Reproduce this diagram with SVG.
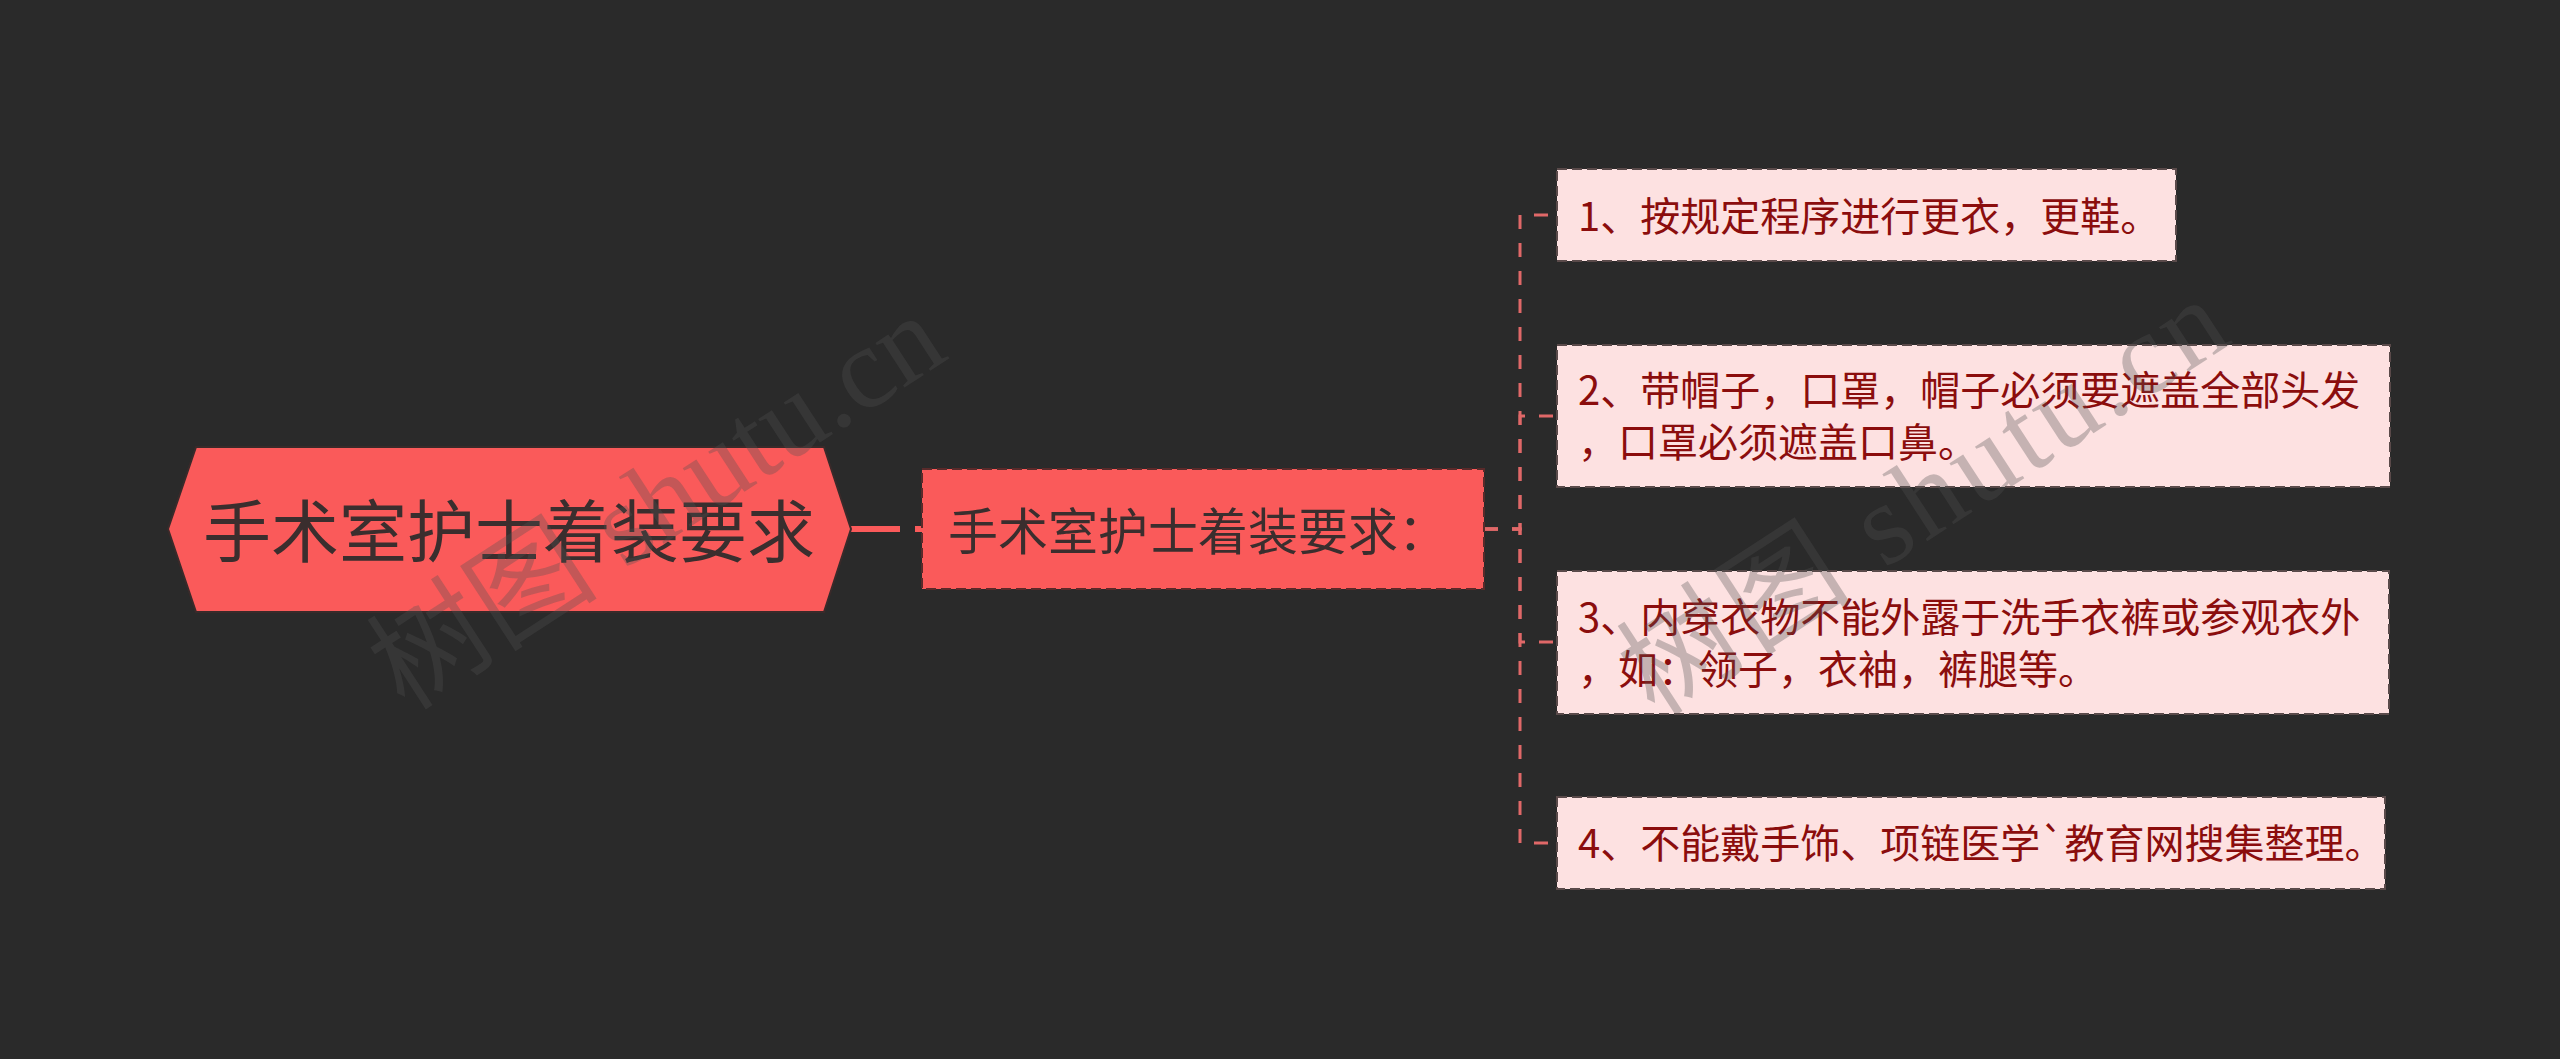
<svg xmlns="http://www.w3.org/2000/svg" width="2560" height="1059" viewBox="0 0 2560 1059">
<style>
  .bg { fill: #2a2a2a; }
  .root-shape { fill: #fa5a5a; stroke: #3a2a2a; stroke-width: 2; }
  .root-text { font-family: "Noto Sans CJK SC", "Noto Sans", sans-serif; font-size: 68px; fill: #3a2e2e; }
  .mid-shape { fill: #fa5a5a; stroke: #5a2a2a; stroke-width: 2; stroke-dasharray: 10 5; }
  .mid-text { font-family: "Noto Sans CJK SC", "Noto Sans", sans-serif; font-size: 50px; fill: #3a2e2e; }
  .leaf-shape { fill: #fde1e1; stroke: #5a4a4a; stroke-width: 2; stroke-dasharray: 10 5; }
  .leaf-text { font-family: "Noto Sans CJK SC", "Noto Sans", sans-serif; font-size: 40px; fill: #8b0d0d; }
  .conn { fill: none; stroke: #e06868; stroke-width: 3; stroke-dasharray: 14 14; }
  .conn-root { fill: none; stroke: #fa5a5a; stroke-width: 6; stroke-dasharray: 49 15; }
  .wm { font-family: "Liberation Serif", "Noto Sans CJK SC", serif; font-size: 116px; fill: #505050; fill-opacity: 0.32; }
</style>
<rect class="bg" x="0" y="0" width="2560" height="1059"/>

<g id="connectors">
  <path class="conn-root" d="M851,529 H922"/>
  <path class="conn" d="M1484,529 H1520 V215 H1557"/>
  <path class="conn" d="M1484,529 H1520 V416 H1557"/>
  <path class="conn" d="M1484,529 H1520 V642 H1557"/>
  <path class="conn" d="M1484,529 H1520 V843 H1557"/>
</g>

<g id="root">
  <polygon class="root-shape" points="168,529 196,447 824,447 851,529 824,612 196,612"/>
  <text class="root-text" x="509" y="557" text-anchor="middle">手术室护士着装要求</text>
</g>

<g id="middle">
  <rect class="mid-shape" x="922" y="469" width="562" height="120"/>
  <text class="mid-text" x="948" y="550">手术室护士着装要求：</text>
</g>

<g id="leaf1">
  <rect class="leaf-shape" x="1557" y="169" width="619" height="92"/>
  <text class="leaf-text" x="1578" y="231">1、按规定程序进行更衣，更鞋。</text>
</g>

<g id="leaf2">
  <rect class="leaf-shape" x="1557" y="345" width="833" height="142"/>
  <text class="leaf-text" x="1578" y="405">2、带帽子，口罩，帽子必须要遮盖全部头发</text>
  <text class="leaf-text" x="1578" y="457">，口罩必须遮盖口鼻。</text>
</g>

<g id="leaf3">
  <rect class="leaf-shape" x="1557" y="571" width="832" height="143"/>
  <text class="leaf-text" x="1578" y="632">3、内穿衣物不能外露于洗手衣裤或参观衣外</text>
  <text class="leaf-text" x="1578" y="684">，如：领子，衣袖，裤腿等。</text>
</g>

<g id="leaf4">
  <rect class="leaf-shape" x="1557" y="797" width="828" height="92"/>
  <text class="leaf-text" x="1578" y="858">4、不能戴手饰、项链医学`教育网搜集整理。</text>
</g>

<g id="watermark">
  <text class="wm" x="405" y="712" transform="rotate(-33 405 712)">树图 shutu.cn</text>
  <text class="wm" x="1655" y="718" transform="rotate(-33 1655 718)" letter-spacing="4">树图 shutu.cn</text>
</g>
</svg>
